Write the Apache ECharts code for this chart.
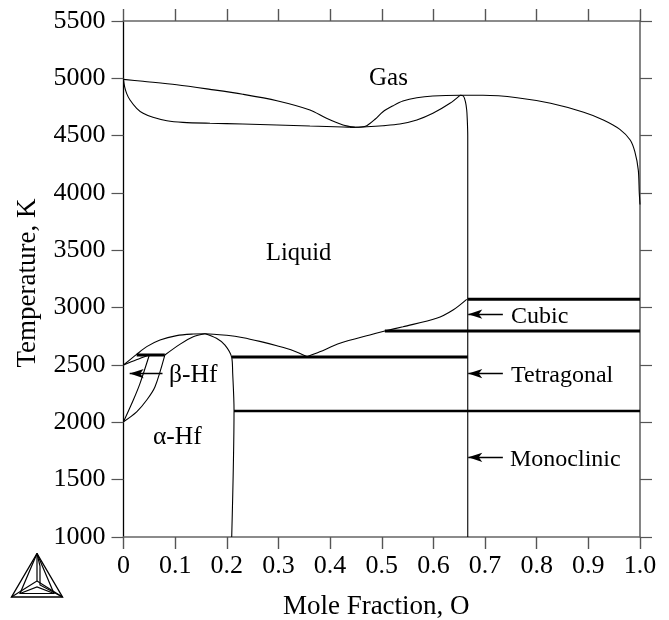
<!DOCTYPE html>
<html><head><meta charset="utf-8"><style>html,body{margin:0;padding:0;background:#fff}#c{width:669px;height:620px}</style>
<script src="https://cdn.jsdelivr.net/npm/echarts@6/dist/echarts.min.js"></script></head>
<body><div id="c"></div><script>
const xTicks=['0','0.1','0.2','0.3','0.4','0.5','0.6','0.7','0.8','0.9','1.0'];
const gasUpperLeftX=[0,.0378,.103,.1675,.231,.297,.361,.393,.425,.448];
const gasUpperLeftT=[4991,4974,4944,4904,4861,4805,4724,4651,4593,4573];
const gasLowerLeftX=[0,.002,.006,.0126,.0255,.038,.057,.084,.115,.1675,.231,.297,.361,.425,.448];
const gasLowerLeftT=[4991,4930,4869,4811,4739,4695,4660,4630,4616,4608,4602,4593,4584,4576,4573];
const lowerRightX=[.4385,.471,.5024,.535,.568,.599,.632,.6515];
const lowerRightT=[4573,4578,4587,4602,4637,4695,4782,4852];
const upperRightX=[.448,.46,.471,.487,.5024,.522,.541,.568,.599,.6515,.696,.762,.827,.891,.929,.961,.981,.990,.9967,.9986,1];
const upperRightT=[4573,4575,4587,4643,4709,4761,4802,4831,4846,4852,4852,4831,4782,4704,4637,4555,4462,4360,4200,4000,3900];
const oxideX=[.6515,.658,.662,.6645,.6655,.6665,.6665];
const oxideT=[4852,4846,4796,4724,4650,4500,1000];
const liquidusX=[0,.0255,.045,.0707,.103,.135,.158,.2,.232,.264,.297,.329,.3556];
const liquidusT=[2500,2593,2660,2718,2756,2770,2773,2759,2738,2706,2668,2625,2572];
const liquidus2X=[.3556,.38,.419,.477,.506,.541,.606,.638,.6645];
const liquidus2T=[2572,2615,2689,2762,2796,2834,2907,2980,3073];
const solidusBetaX=[0,.025,.05];
const solidusBetaT=[2500,2545,2587];
const alphaBetaUpX=[0,.019,.032,.05];
const alphaBetaUpT=[2005,2195,2340,2587];
const alphaBetaLowX=[0,.0255,.045,.061,.08];
const alphaBetaLowT=[2005,2092,2195,2311,2587];
const betaTopX=[.08,.109,.135,.158];
const betaTopT=[2587,2680,2747,2773];
const alphaRightX=[.158,.18,.1965,.2095,.2114,.214,.2095];
const alphaRightT=[2773,2733,2674,2567,2428,2107,1000];
const thickLines=[[.0255,.08,2587,3],[.21,.6665,2570,3],[.214,1,2099,2.5],[.506,1,2796,3],[.6665,1,3073,3]];
const arrows=[[.0755,.012,2425],[.7345,.6675,2425],[.7345,.6675,2943],[.7345,.6675,1695]];
const zip=(a,b)=>a.map((v,i)=>[v,b[i]]);
const thin=(a,b)=>({type:'line',data:zip(a,b),symbol:'none',smooth:.3,silent:true,animation:false,lineStyle:{color:'#000',width:1.1}});
const series=[[gasUpperLeftX,gasUpperLeftT],[gasLowerLeftX,gasLowerLeftT],[lowerRightX,lowerRightT],[upperRightX,upperRightT],[oxideX,oxideT],[liquidusX,liquidusT],[liquidus2X,liquidus2T],[solidusBetaX,solidusBetaT],[alphaBetaUpX,alphaBetaUpT],[alphaBetaLowX,alphaBetaLowT],[betaTopX,betaTopT],[alphaRightX,alphaRightT]].map(p=>thin(p[0],p[1]));
thickLines.forEach(l=>series.push({type:'line',data:[[l[0],l[2]],[l[1],l[2]]],symbol:'none',animation:false,lineStyle:{color:'#000',width:l[3],cap:'butt'}}));
series.push({type:'line',data:[],animation:false,markLine:{silent:true,animation:false,symbol:['arrow','none'],symbolSize:[7,14],label:{show:false},lineStyle:{color:'#000',width:1.3,type:'solid'},data:arrows.map(a=>[{coord:[a[1],a[2]]},{coord:[a[0],a[2]]}])}});
const font='"Liberation Serif"';
const txt=(t,x,y,s)=>({type:'text',x,y,style:{text:t,font:(s||24)+'px '+font,fill:'#000',verticalAlign:'middle'}});
const tri=(pts,w)=>({type:'polyline',shape:{points:pts},style:{stroke:'#000',fill:null,lineWidth:w||1.2}});
const A=[37,553.5],L=[11.5,597],R=[62.5,597],C=[37,581],L2=[20,593.5],R2=[54,593.5];
const graphic=[
 txt('Gas',369,78,25),txt('Liquid',266,254,24.5),txt('\u03b2-Hf',169,375,25.5),txt('\u03b1-Hf',153,437,25.5),
 txt('Cubic',511,317),txt('Tetragonal',511,376),txt('Monoclinic',510,460),
 tri([A,L,R,A],1.4),tri([A,L2,R2,A]),tri([A,C,L]),tri([C,R]),tri([L2,[37,587],R2]),tri([A,[40,566],[40,585],R])
];
const xBase={type:'value',min:0,max:1,interval:.1,splitLine:{show:false},axisLine:{onZero:false,lineStyle:{color:'#666',width:1.6}},axisTick:{length:12,lineStyle:{color:'#555',width:1.4}}};
const yBase={type:'value',min:1000,max:5500,interval:500,splitLine:{show:false},axisLine:{onZero:false,lineStyle:{color:'#666',width:1.6}},axisTick:{length:12,lineStyle:{color:'#555',width:1.2}}};
const chart=echarts.init(document.getElementById('c'),null,{renderer:'canvas'});
chart.setOption({animation:false,backgroundColor:'#fff',textStyle:{fontFamily:font},
 grid:{left:123.5,right:29,top:21,bottom:83,containLabel:false,outerBoundsMode:'none'},
 xAxis:[Object.assign({},xBase,{position:'bottom',name:'Mole Fraction, O',nameLocation:'middle',nameGap:56,nameTextStyle:{fontFamily:font,fontSize:27,color:'#000',padding:[0,11,0,0]},
   axisLabel:{fontFamily:font,fontSize:26,color:'#000',margin:16,showMinLabel:true,showMaxLabel:true,hideOverlap:false,formatter:(v)=>xTicks[Math.round(v*10)]}}),
  Object.assign({},xBase,{position:'top',axisLabel:{show:false}})],
 yAxis:[Object.assign({},yBase,{position:'left',axisLine:{onZero:false,lineStyle:{color:'#000',width:1.3}},name:'Temperature, K',nameLocation:'middle',nameGap:82,nameTextStyle:{fontFamily:font,fontSize:27,color:'#000',padding:[0,8,0,0]},
   axisLabel:{fontFamily:font,fontSize:26,color:'#000',margin:18,showMinLabel:true,showMaxLabel:true,hideOverlap:false,formatter:(v)=>String(v)}}),
  Object.assign({},yBase,{position:'right',axisLabel:{show:false}})],
 series,graphic});
</script></body></html>
